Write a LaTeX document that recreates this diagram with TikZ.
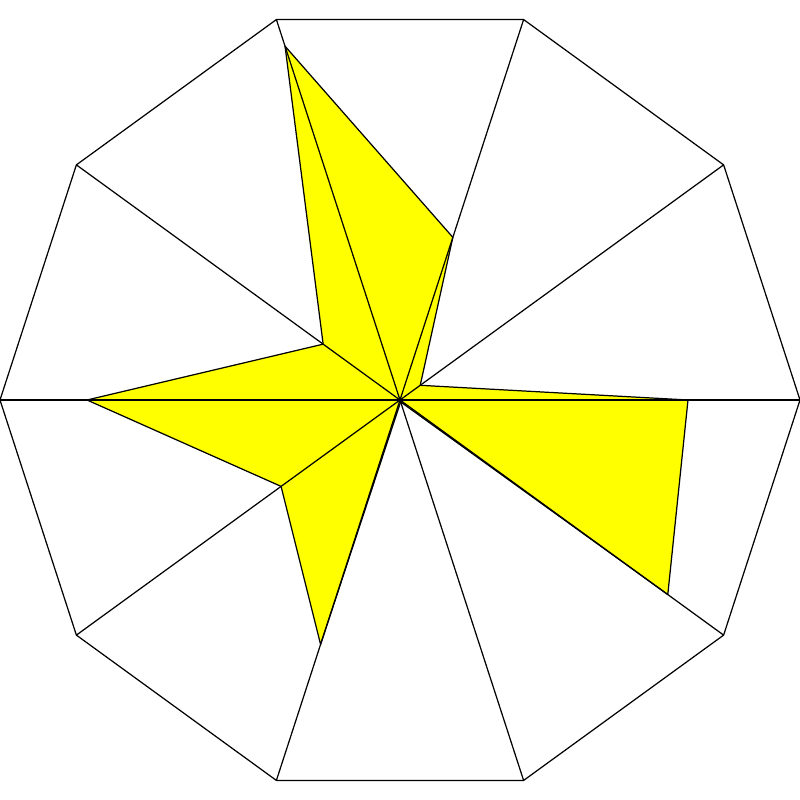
\documentclass[tikz,border=0pt]{standalone}
\usetikzlibrary{calc}
\definecolor{StarYellow}{RGB}{255,255,0}
\tikzset{
  rim/.style={draw=black, line width=0.35pt, line join=round},
  spoke/.style={draw=black, line width=0.35pt},
  starfill/.style={fill=StarYellow, draw=black, line width=0.35pt, line join=round}
}
\begin{document}
\begin{tikzpicture}
\useasboundingbox (-4,-4) rectangle (4,4);
\coordinate (o) at (0,0);
% one point on every spoke, and the corners of the decagon
\foreach \r [count=\i from 0] in {2.88,0.25,1.71,3.72,0.95,3.13,1.47,2.57,0.02,3.31} {
  \coordinate (p\i) at (36*\i:\r);
  \coordinate (v\i) at (36*\i:4);
}
% yellow star
\draw[starfill] (p0) \foreach \i in {1,...,9} { -- (p\i) } -- cycle;
% spokes
\foreach \i in {0,...,9}
  \draw[spoke] (o) -- (v\i);
% decagon
\draw[rim] (v0) \foreach \i in {1,...,9} { -- (v\i) } -- cycle;
\end{tikzpicture}
\end{document}
